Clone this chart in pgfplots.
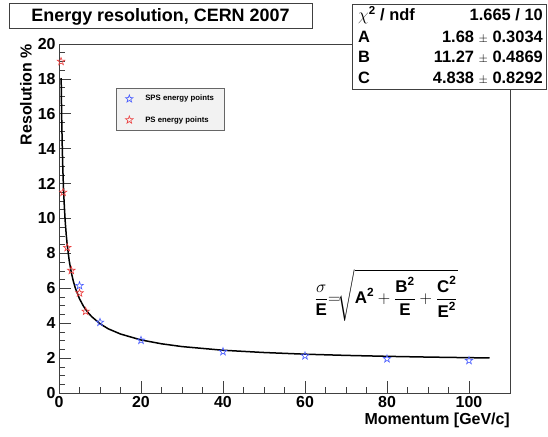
\documentclass[border=0pt]{standalone}
\usepackage{fontspec}
\setmainfont{Liberation Sans}
\usepackage{amsmath}
\usepackage{pgfplots}
\pgfplotsset{compat=1.18}
\definecolor{sps}{RGB}{70,90,255}
\definecolor{ps}{RGB}{235,60,60}
\pgfdeclareplotmark{ostar}{%
 \pgfpathmoveto{\pgfqpoint{0pt}{\pgfplotmarksize}}%
 \pgfpathlineto{\pgfqpoint{0.235\pgfplotmarksize}{0.324\pgfplotmarksize}}%
 \pgfpathlineto{\pgfqpoint{0.951\pgfplotmarksize}{0.309\pgfplotmarksize}}%
 \pgfpathlineto{\pgfqpoint{0.380\pgfplotmarksize}{-0.124\pgfplotmarksize}}%
 \pgfpathlineto{\pgfqpoint{0.588\pgfplotmarksize}{-0.809\pgfplotmarksize}}%
 \pgfpathlineto{\pgfqpoint{0pt}{-0.4\pgfplotmarksize}}%
 \pgfpathlineto{\pgfqpoint{-0.588\pgfplotmarksize}{-0.809\pgfplotmarksize}}%
 \pgfpathlineto{\pgfqpoint{-0.380\pgfplotmarksize}{-0.124\pgfplotmarksize}}%
 \pgfpathlineto{\pgfqpoint{-0.951\pgfplotmarksize}{0.309\pgfplotmarksize}}%
 \pgfpathlineto{\pgfqpoint{-0.235\pgfplotmarksize}{0.324\pgfplotmarksize}}%
 \pgfpathclose\pgfusepathqstroke}
\begin{document}
\begin{tikzpicture}
\useasboundingbox (0,0) rectangle (548bp,437bp);
\begin{axis}[
  at={(59bp,44bp)}, anchor=south west, scale only axis,
  width=451bp, height=349bp,
  xmin=0, xmax=110, ymin=0, ymax=20,
  xtick={0,20,...,100}, ytick={0,2,...,20},
  minor x tick num=3, minor y tick num=3,
  tick align=inside, xtick pos=bottom, ytick pos=left,
  major tick length=12bp, minor tick length=6bp,
  axis line style={black!75, line width=0.8bp},
  tick style={black!75, line width=0.6bp},
  ticklabel style={font=\fontsize{16}{18}\selectfont\bfseries},
  /pgf/number format/assume math mode=true,
  xlabel={\fontsize{16}{18}\selectfont\bfseries Momentum [GeV/c]},
  ylabel={\fontsize{16}{18}\selectfont\bfseries Resolution \%},
  xlabel style={at={(axis description cs:1,0)}, anchor=north east, yshift=-20bp, inner sep=0pt},
  ylabel style={at={(axis description cs:-0.06,1)}, anchor=south east, inner sep=0pt},
  clip=false,
  legend style={at={(axis description cs:0.1264,0.874)}, anchor=north west,
    draw=black!60, fill=black!5, line width=0.6bp,
    font=\fontsize{7.8}{9}\selectfont\bfseries,
    row sep=10bp, inner xsep=2bp, inner ysep=5bp},
  legend cell align=left,
  legend image code/.code={\path[draw=none,fill=none] (-11bp,-4bp) rectangle (14bp,4bp);
    \draw[#1] plot coordinates {(0bp,0bp)};},
]
\addplot[only marks, mark=ostar, mark size=4bp, sps, mark options={line width=0.6bp}] coordinates {
 (5,6.15) (10,4.05) (20,3.02) (40,2.37) (60,2.13) (80,1.96) (100,1.86)};
\addlegendentry{\makebox[75bp][l]{SPS energy points}}
\addplot[only marks, mark=ostar, mark size=4bp, ps, mark options={line width=0.6bp}] coordinates {
 (0.5,19.0) (1,11.5) (2,8.33) (3,7.02) (5,5.73) (6.5,4.68)};
\addlegendentry{\makebox[75bp][l]{PS energy points}}
\addplot[black, line width=1.5bp, forget plot] coordinates {
 (0.53,18.05) (0.56,17.44) (0.6,16.72) (0.65,15.93) (0.7,15.23) (0.8,14.08)
 (0.9,13.15) (1,12.38) (1.1,11.73) (1.25,10.93) (1.5,9.89) (1.75,9.11)
 (2,8.50) (2.5,7.57) (3,6.91) (3.5,6.40) (4,6.00) (5,5.40) (6,4.96)
 (7,4.63) (8,4.37) (10,3.97) (12,3.68) (15,3.38) (20,3.04) (25,2.82)
 (30,2.66) (40,2.45) (50,2.32) (60,2.224) (70,2.155) (80,2.101)
 (90,2.058) (100,2.024) (105,2.008)};
\end{axis}
% title box
\draw[fill=white, line width=0.8bp, draw=black!75] (9bp,409bp) rectangle (312bp,434bp);
\node[anchor=base, inner sep=0pt] at (160.5bp,415.5bp) {\fontsize{18}{21}\selectfont\bfseries Energy resolution, CERN 2007};
% stats box
\draw[fill=white, line width=0.8bp, draw=black!75] (352bp,348bp) rectangle (546bp,433bp);
\begin{scope}[every node/.style={inner sep=0pt, font=\fontsize{16.5}{19}\selectfont\bfseries}]
\node[anchor=base west] at (358bp,416.5bp) {$\chi$\textsuperscript{2} / ndf};
\node[anchor=base east] at (543bp,416.5bp) {1.665 / 10};
\node[anchor=base west] at (358bp,394.5bp) {A};
\node[anchor=base east] at (543bp,394.5bp) {1.68 {\mdseries\fontsize{13}{15}\selectfont$\pm$} 0.3034};
\node[anchor=base west] at (358bp,374bp) {B};
\node[anchor=base east] at (543bp,374bp) {11.27 {\mdseries\fontsize{13}{15}\selectfont$\pm$} 0.4869};
\node[anchor=base west] at (358bp,353bp) {C};
\node[anchor=base east] at (543bp,353bp) {4.838 {\mdseries\fontsize{13}{15}\selectfont$\pm$} 0.8292};
\end{scope}
% formula
\node at (386bp,142bp) {\fontsize{17}{20}\selectfont\bfseries
 $\displaystyle \frac{\sigma}{\textbf{E}}\mathord{=}\!\sqrt{\textbf{A}^{\textbf{2}}+\frac{\textbf{B}^{\textbf{2}}}{\textbf{E}}+\frac{\textbf{C}^{\textbf{2}}}{\textbf{E}^{\textbf{2}}}}$};
\end{tikzpicture}
\end{document}
